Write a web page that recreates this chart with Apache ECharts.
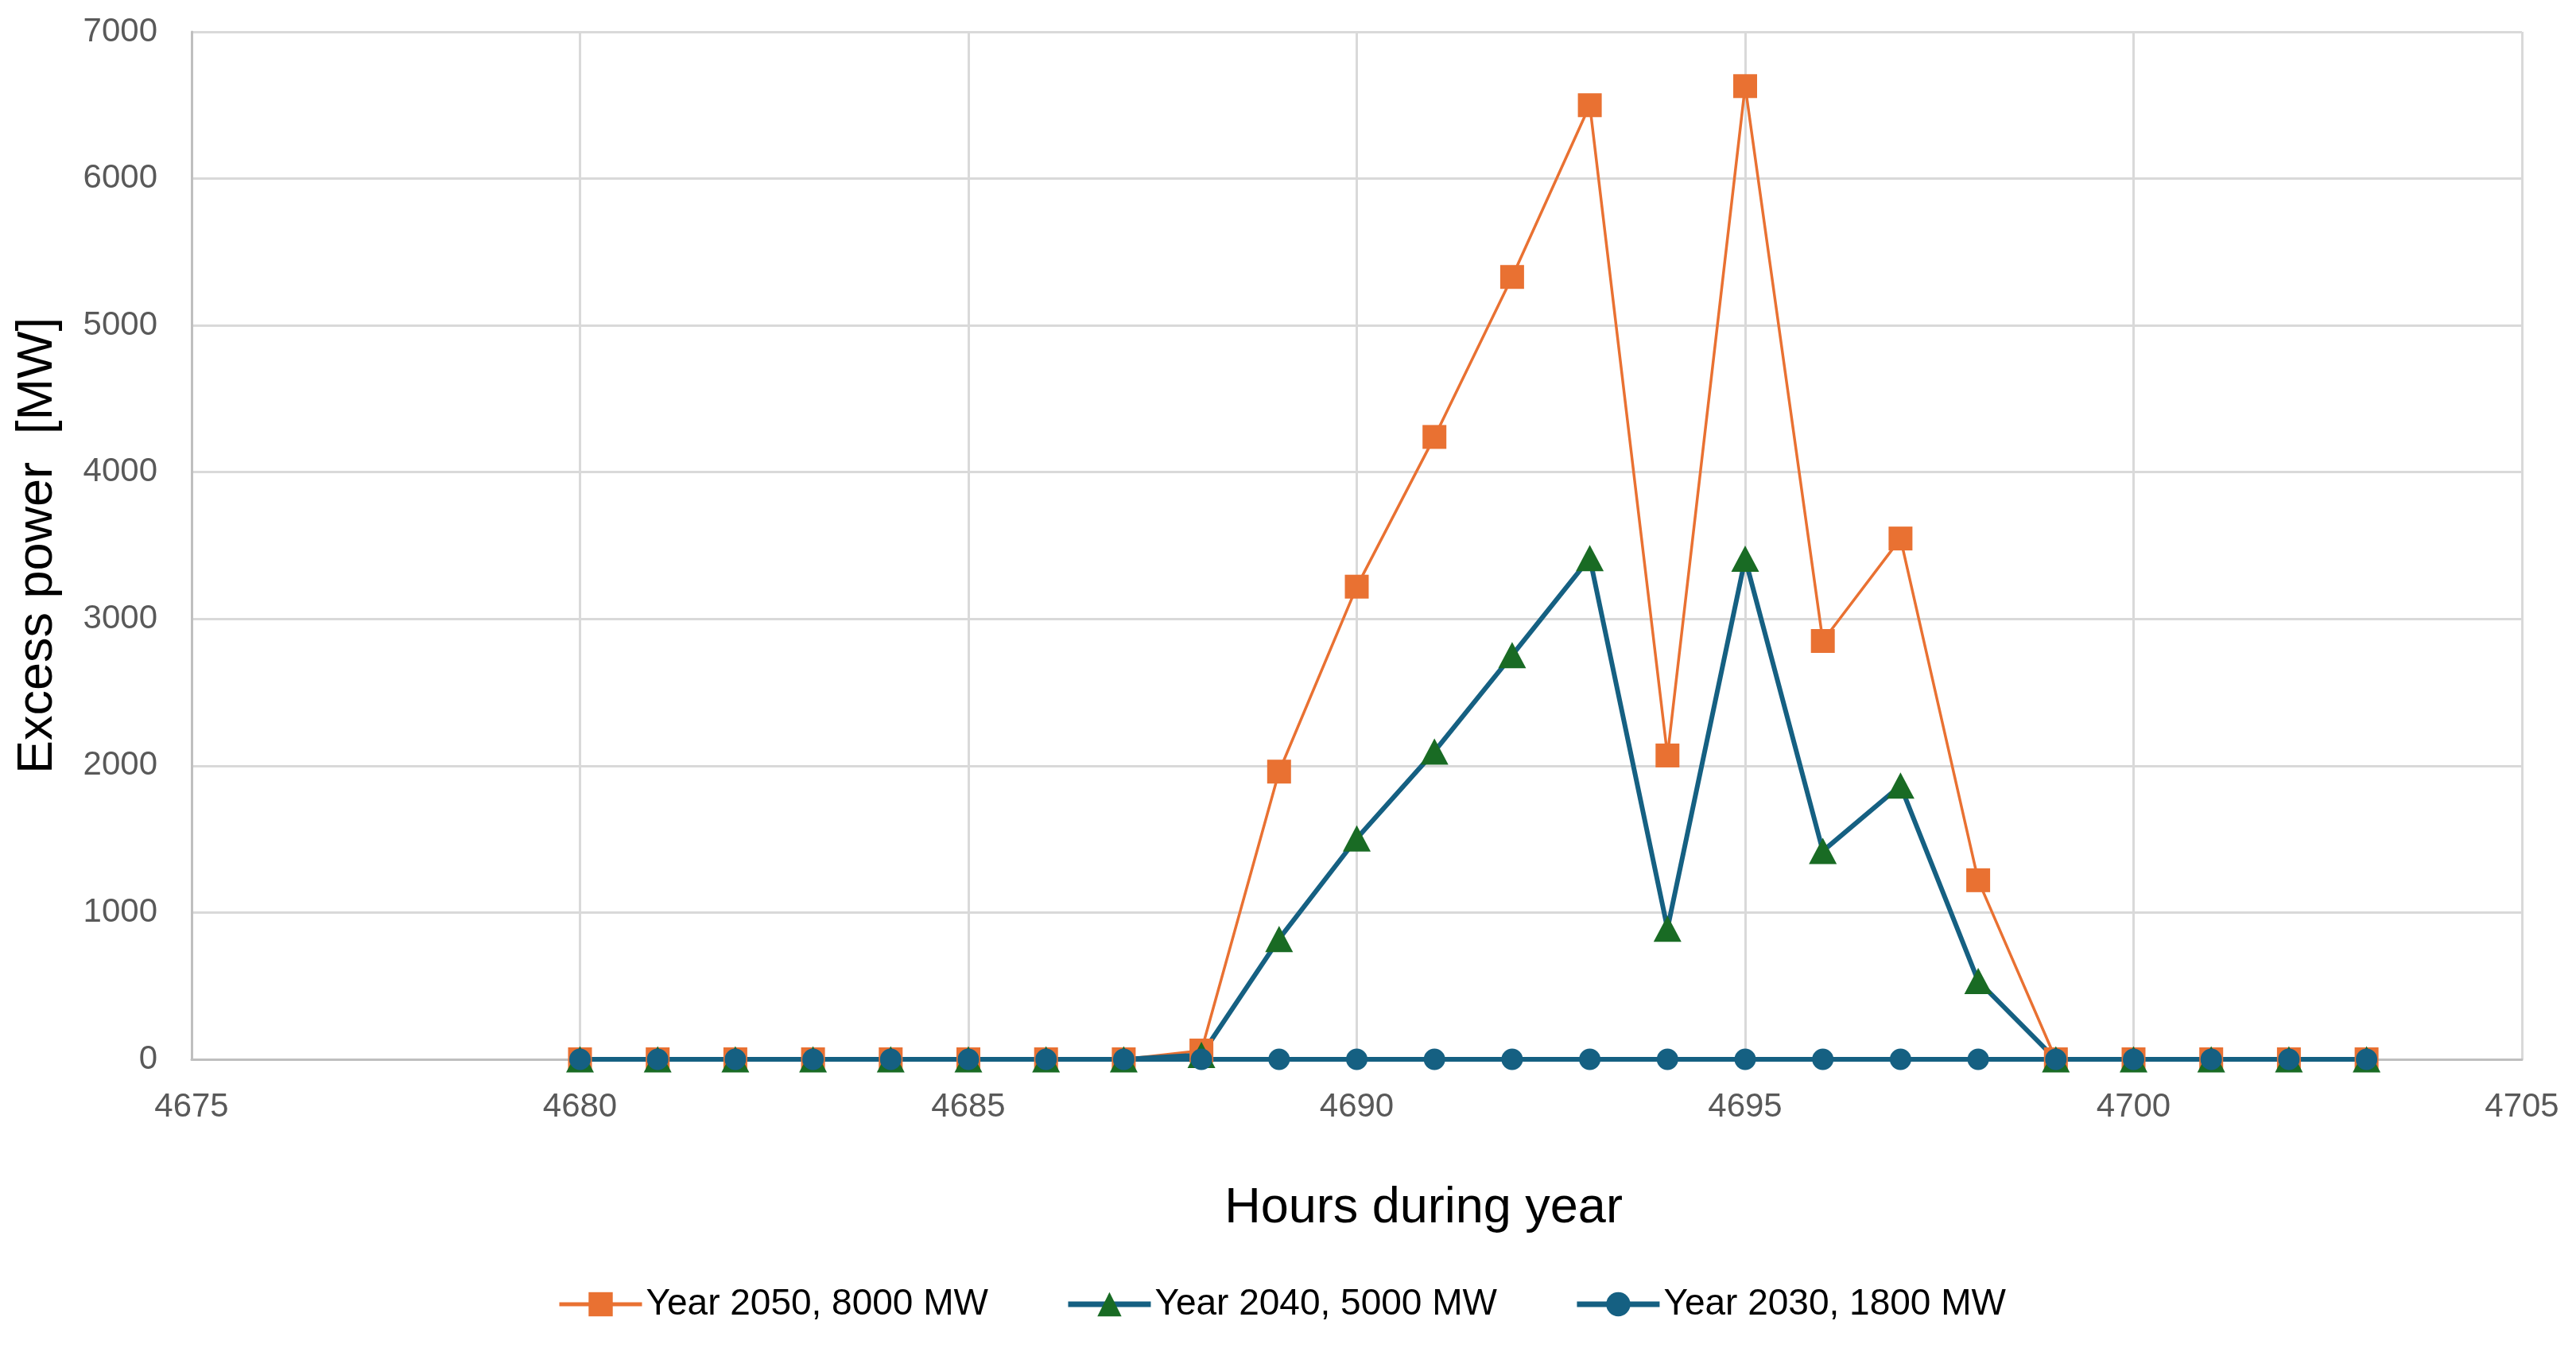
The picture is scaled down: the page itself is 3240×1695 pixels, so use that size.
<!DOCTYPE html>
<html>
<head>
<meta charset="utf-8">
<script src="https://cdn.jsdelivr.net/npm/echarts@6/dist/echarts.min.js"></script>
<style>
html,body{margin:0;padding:0;background:#fff;}
#chart{width:3240px;height:1695px;}
</style>
</head>
<body>
<div id="chart"></div>
<script>
// Hours during year (x values)
const hours = [4680,4681,4682,4683,4684,4685,4686,4687,4688,4689,4690,4691,4692,4693,4694,4695,4696,4697,4698,4699,4700,4701,4702,4703];
// Excess power [MW]
const year2050 = [0,0,0,0,0,0,0,0,60,1960,3220,4240,5330,6500,2070,6630,2850,3548,1220,0,0,0,0,0];
const year2040 = [0,0,0,0,0,0,0,0,30,820,1505,2097,2753,3415,890,3410,1419,1865,533,0,0,0,0,0];
const year2030 = [0,0,0,0,0,0,0,0,0,0,0,0,0,0,0,0,0,0,0,0,0,0,0,0];
const seriesNames = ['Year 2050, 8000 MW','Year 2040, 5000 MW','Year 2030, 1800 MW'];
const xTitle = 'Hours during year';
const yTitle = 'Excess power  [MW]';

const pairs = v => hours.map((h,i) => [h, v[i]]);
const FONT = '"Liberation Sans", Arial, sans-serif';
const plain = v => String(v);

const chart = echarts.init(document.getElementById('chart'), null, {renderer:'canvas'});
chart.setOption({
  animation: false,
  backgroundColor: '#ffffff',
  grid: {left: 241, right: 68, top: 40, bottom: 363, containLabel: false},
  xAxis: {
    type: 'value', min: 4675, max: 4705, interval: 5,
    name: xTitle, nameLocation: 'middle', nameGap: 156,
    nameTextStyle: {fontFamily: FONT, fontSize: 63, color: '#000000', padding: [0, 0, 0, 168]},
    axisLine: {show: true, lineStyle: {color: '#bfbfbf', width: 3}},
    axisTick: {show: false},
    axisLabel: {fontFamily: FONT, fontSize: 42, color: '#595959', margin: 39, formatter: plain},
    splitLine: {show: true, lineStyle: {color: '#d9d9d9', width: 3}}
  },
  yAxis: {
    type: 'value', min: 0, max: 7000, interval: 1000,
    name: yTitle, nameLocation: 'middle', nameGap: 162, nameRotate: 90,
    nameTextStyle: {fontFamily: FONT, fontSize: 63, color: '#000000'},
    axisLine: {show: true, lineStyle: {color: '#bfbfbf', width: 3}},
    axisTick: {show: false},
    axisLabel: {fontFamily: FONT, fontSize: 42, color: '#595959', margin: 43, formatter: plain},
    splitLine: {show: true, lineStyle: {color: '#d9d9d9', width: 3}}
  },
  legend: {
    left: 696, top: 1612,
    itemWidth: 104, itemHeight: 38, itemGap: 97,
    textStyle: {fontFamily: FONT, fontSize: 46, color: '#000000'},
    data: [
      {name: seriesNames[0], lineStyle: {width: 5}},
      {name: seriesNames[1], lineStyle: {width: 7}},
      {name: seriesNames[2], lineStyle: {width: 7}}
    ]
  },
  series: [
    {
      name: seriesNames[0], type: 'line', data: pairs(year2050),
      symbol: 'rect', symbolSize: 30, showAllSymbol: true,
      lineStyle: {color: '#E97132', width: 3.5},
      itemStyle: {color: '#E97132', borderWidth: 0}
    },
    {
      name: seriesNames[1], type: 'line', data: pairs(year2040),
      symbol: 'triangle', symbolSize: [35, 33], showAllSymbol: true,
      lineStyle: {color: '#156082', width: 6},
      itemStyle: {color: '#196B24', borderWidth: 0}
    },
    {
      name: seriesNames[2], type: 'line', data: pairs(year2030),
      symbol: 'circle', symbolSize: 27, showAllSymbol: true,
      lineStyle: {color: '#156082', width: 6},
      itemStyle: {color: '#156082', borderWidth: 0}
    }
  ]
});
</script>
</body>
</html>
